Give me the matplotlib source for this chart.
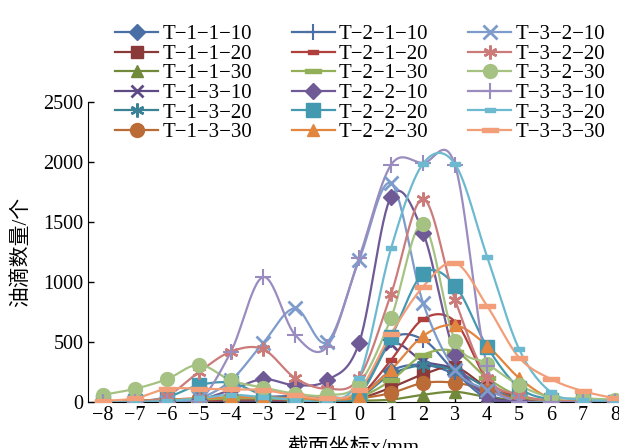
import numpy as np
import matplotlib
matplotlib.use("Agg")
import matplotlib.pyplot as plt
from matplotlib.path import Path

plt.rcParams['font.family'] = ['Liberation Serif', 'Noto Sans CJK SC']

x = list(range(-8, 9))

# series values, x = -8 .. 8
t_1_1_10 = [0, 0, 0, 5, 10, 20, 10, 10, 40, 260, 310, 230, 60, 10, 0, 0, 0]
t_1_1_20 = [0, 0, 5, 10, 20, 20, 10, 10, 30, 120, 230, 290, 120, 20, 5, 0, 0]
t_1_1_30 = [0, 0, 0, 5, 10, 10, 5, 5, 10, 20, 60, 85, 40, 10, 0, 0, 0]
t_1_3_10 = [0, 0, 0, 5, 10, 10, 10, 10, 60, 480, 340, 270, 50, 5, 0, 0, 0]
t_1_3_20 = [0, 0, 5, 10, 20, 20, 10, 10, 40, 230, 305, 260, 120, 30, 5, 0, 0]
t_1_3_30 = [5, 10, 20, 30, 30, 30, 20, 15, 30, 75, 158, 160, 100, 20, 5, 0, 0]

t_2_1_10 = [0, 0, 5, 10, 20, 40, 50, 40, 80, 520, 520, 250, 30, 5, 0, 0, 0]
t_2_1_20 = [0, 0, 5, 10, 20, 20, 15, 10, 50, 350, 690, 670, 190, 40, 5, 0, 0]
t_2_1_30 = [0, 5, 10, 20, 30, 30, 20, 15, 40, 180, 392, 420, 200, 50, 10, 0, 0]
t_2_2_10 = [0, 0, 5, 20, 100, 190, 140, 180, 490, 1710, 1410, 390, 50, 5, 0, 0, 0]
t_2_2_20 = [0, 5, 40, 140, 160, 60, 20, 10, 60, 540, 1070, 970, 460, 120, 20, 5, 0]
t_2_2_30 = [5, 10, 20, 30, 40, 40, 30, 20, 50, 270, 550, 640, 470, 200, 30, 10, 0]

t_3_2_10 = [0, 0, 0, 30, 180, 490, 780, 500, 1180, 1820, 825, 270, 100, 10, 0, 0, 0]
t_3_2_20 = [0, 0, 50, 250, 420, 440, 200, 110, 200, 900, 1690, 850, 200, 60, 10, 0, 0]
t_3_2_30 = [60, 110, 190, 310, 180, 120, 70, 55, 150, 700, 1480, 510, 320, 140, 40, 30, 20]
t_3_3_10 = [0, 0, 0, 10, 420, 1040, 560, 460, 1200, 1975, 1990, 1970, 300, 0, 0, 0, 0]
t_3_3_20 = [0, 0, 10, 30, 60, 40, 20, 10, 200, 1280, 1985, 1980, 1210, 440, 80, 20, 10]
t_3_3_30 = [10, 30, 110, 110, 105, 100, 55, 30, 100, 570, 960, 1160, 800, 370, 190, 90, 30]

labels = ['T−1−1−10', 'T−1−1−20', 'T−1−1−30', 'T−1−3−10', 'T−1−3−20', 'T−1−3−30',
          'T−2−1−10', 'T−2−1−20', 'T−2−1−30', 'T−2−2−10', 'T−2−2−20', 'T−2−2−30',
          'T−3−2−10', 'T−3−2−20', 'T−3−2−30', 'T−3−3−10', 'T−3−3−20', 'T−3−3−30']
series = [t_1_1_10, t_1_1_20, t_1_1_30, t_1_3_10, t_1_3_20, t_1_3_30,
          t_2_1_10, t_2_1_20, t_2_1_30, t_2_2_10, t_2_2_20, t_2_2_30,
          t_3_2_10, t_3_2_20, t_3_2_30, t_3_3_10, t_3_3_20, t_3_3_30]
colors = ['#4A6FA5', '#8B3A3A', '#71893A', '#5E4A85', '#3B8296', '#BB6B36',
          '#4A6FA5', '#B0403D', '#93B058', '#6F5A96', '#4399B0', '#E2853F',
          '#7D9BCB', '#CB7C7A', '#A5C283', '#9A8CBF', '#6DBAD0', '#F29E78']

short_dash = Path([(-1, -0.45), (1, -0.45), (1, 0.45), (-1, 0.45), (-1, -0.45)],
                  [1, 2, 2, 2, 79])
long_dash = Path([(-1, -0.3), (1, -0.3), (1, 0.3), (-1, 0.3), (-1, -0.3)],
                 [1, 2, 2, 2, 79])
asterisk = (6, 2, 0)
# (marker, size, edge width)
styles = [('D', 8, 1), ('s', 9, 1), ('^', 9, 1), ('x', 9, 2), (asterisk, 10, 1.8), ('o', 10, 1),
          ('+', 11, 1.5), (short_dash, 7, 1), (long_dash, 11, 1), ('D', 8, 1), ('s', 10, 1), ('^', 9, 1),
          ('x', 10, 2), (asterisk, 10, 1.8), ('o', 10, 1), ('+', 11, 1.5), (short_dash, 7, 1), (long_dash, 11, 1)]


def smooth(xs, ys, n=30):
    # Catmull-Rom style bezier, like spreadsheet "smoothed line"
    xs = np.asarray(xs, float)
    ys = np.asarray(ys, float)
    px = np.concatenate([[xs[0]], xs, [xs[-1]]])
    py = np.concatenate([[ys[0]], ys, [ys[-1]]])
    outx, outy = [], []
    t = np.linspace(0, 1, n)
    for i in range(1, len(px) - 2):
        p0 = np.array([px[i], py[i]])
        p3 = np.array([px[i + 1], py[i + 1]])
        p1 = p0 + (p3 - np.array([px[i - 1], py[i - 1]])) / 6
        p2 = p3 - (np.array([px[i + 2], py[i + 2]]) - p0) / 6
        b = ((1 - t) ** 3)[:, None] * p0 + (3 * (1 - t) ** 2 * t)[:, None] * p1 \
            + (3 * (1 - t) * t ** 2)[:, None] * p2 + (t ** 3)[:, None] * p3
        outx.extend(b[:, 0])
        outy.extend(b[:, 1])
    return outx, outy


fig = plt.figure(figsize=(6.19, 4.48), dpi=100)
ax = fig.add_axes([0.142, 0.1027, 0.858, 0.67])

handles = []
for vals, lab, col, (mk, ms, mew) in zip(series, labels, colors, styles):
    sx, sy = smooth(x, vals)
    ax.plot(sx, sy, color=col, lw=1.6, zorder=2)
    ax.plot(x, vals, ls='none', marker=mk, ms=ms, color=col, mew=mew, zorder=3)
    h, = ax.plot([], [], color=col, lw=1.6, marker=mk, ms=ms, mew=mew)
    handles.append(h)

ax.set_xlim(-8.47, 8.12)
ax.set_ylim(0, 2500)
ax.set_xticks(x)
ax.set_xticklabels([str(v).replace('-', '−') for v in x])
ax.set_yticks([0, 500, 1000, 1500, 2000, 2500])
ax.tick_params(direction='in', length=4, width=1, labelsize=14.5, pad=3)
ax.spines['top'].set_visible(False)
ax.spines['right'].set_visible(False)

ax.set_xlabel('截面坐标x/mm', fontsize=15, labelpad=9)
ax.set_ylabel('油滴数量/个', fontsize=15, labelpad=9)

fig.legend(handles, labels, ncol=3, loc='upper left', bbox_to_anchor=(0.186, 0.945),
           frameon=False, fontsize=15, labelspacing=0.0, handlelength=2.07,
           handletextpad=0.2, columnspacing=1.9, borderaxespad=0, borderpad=0)

fig.savefig('out.png', dpi=100)
